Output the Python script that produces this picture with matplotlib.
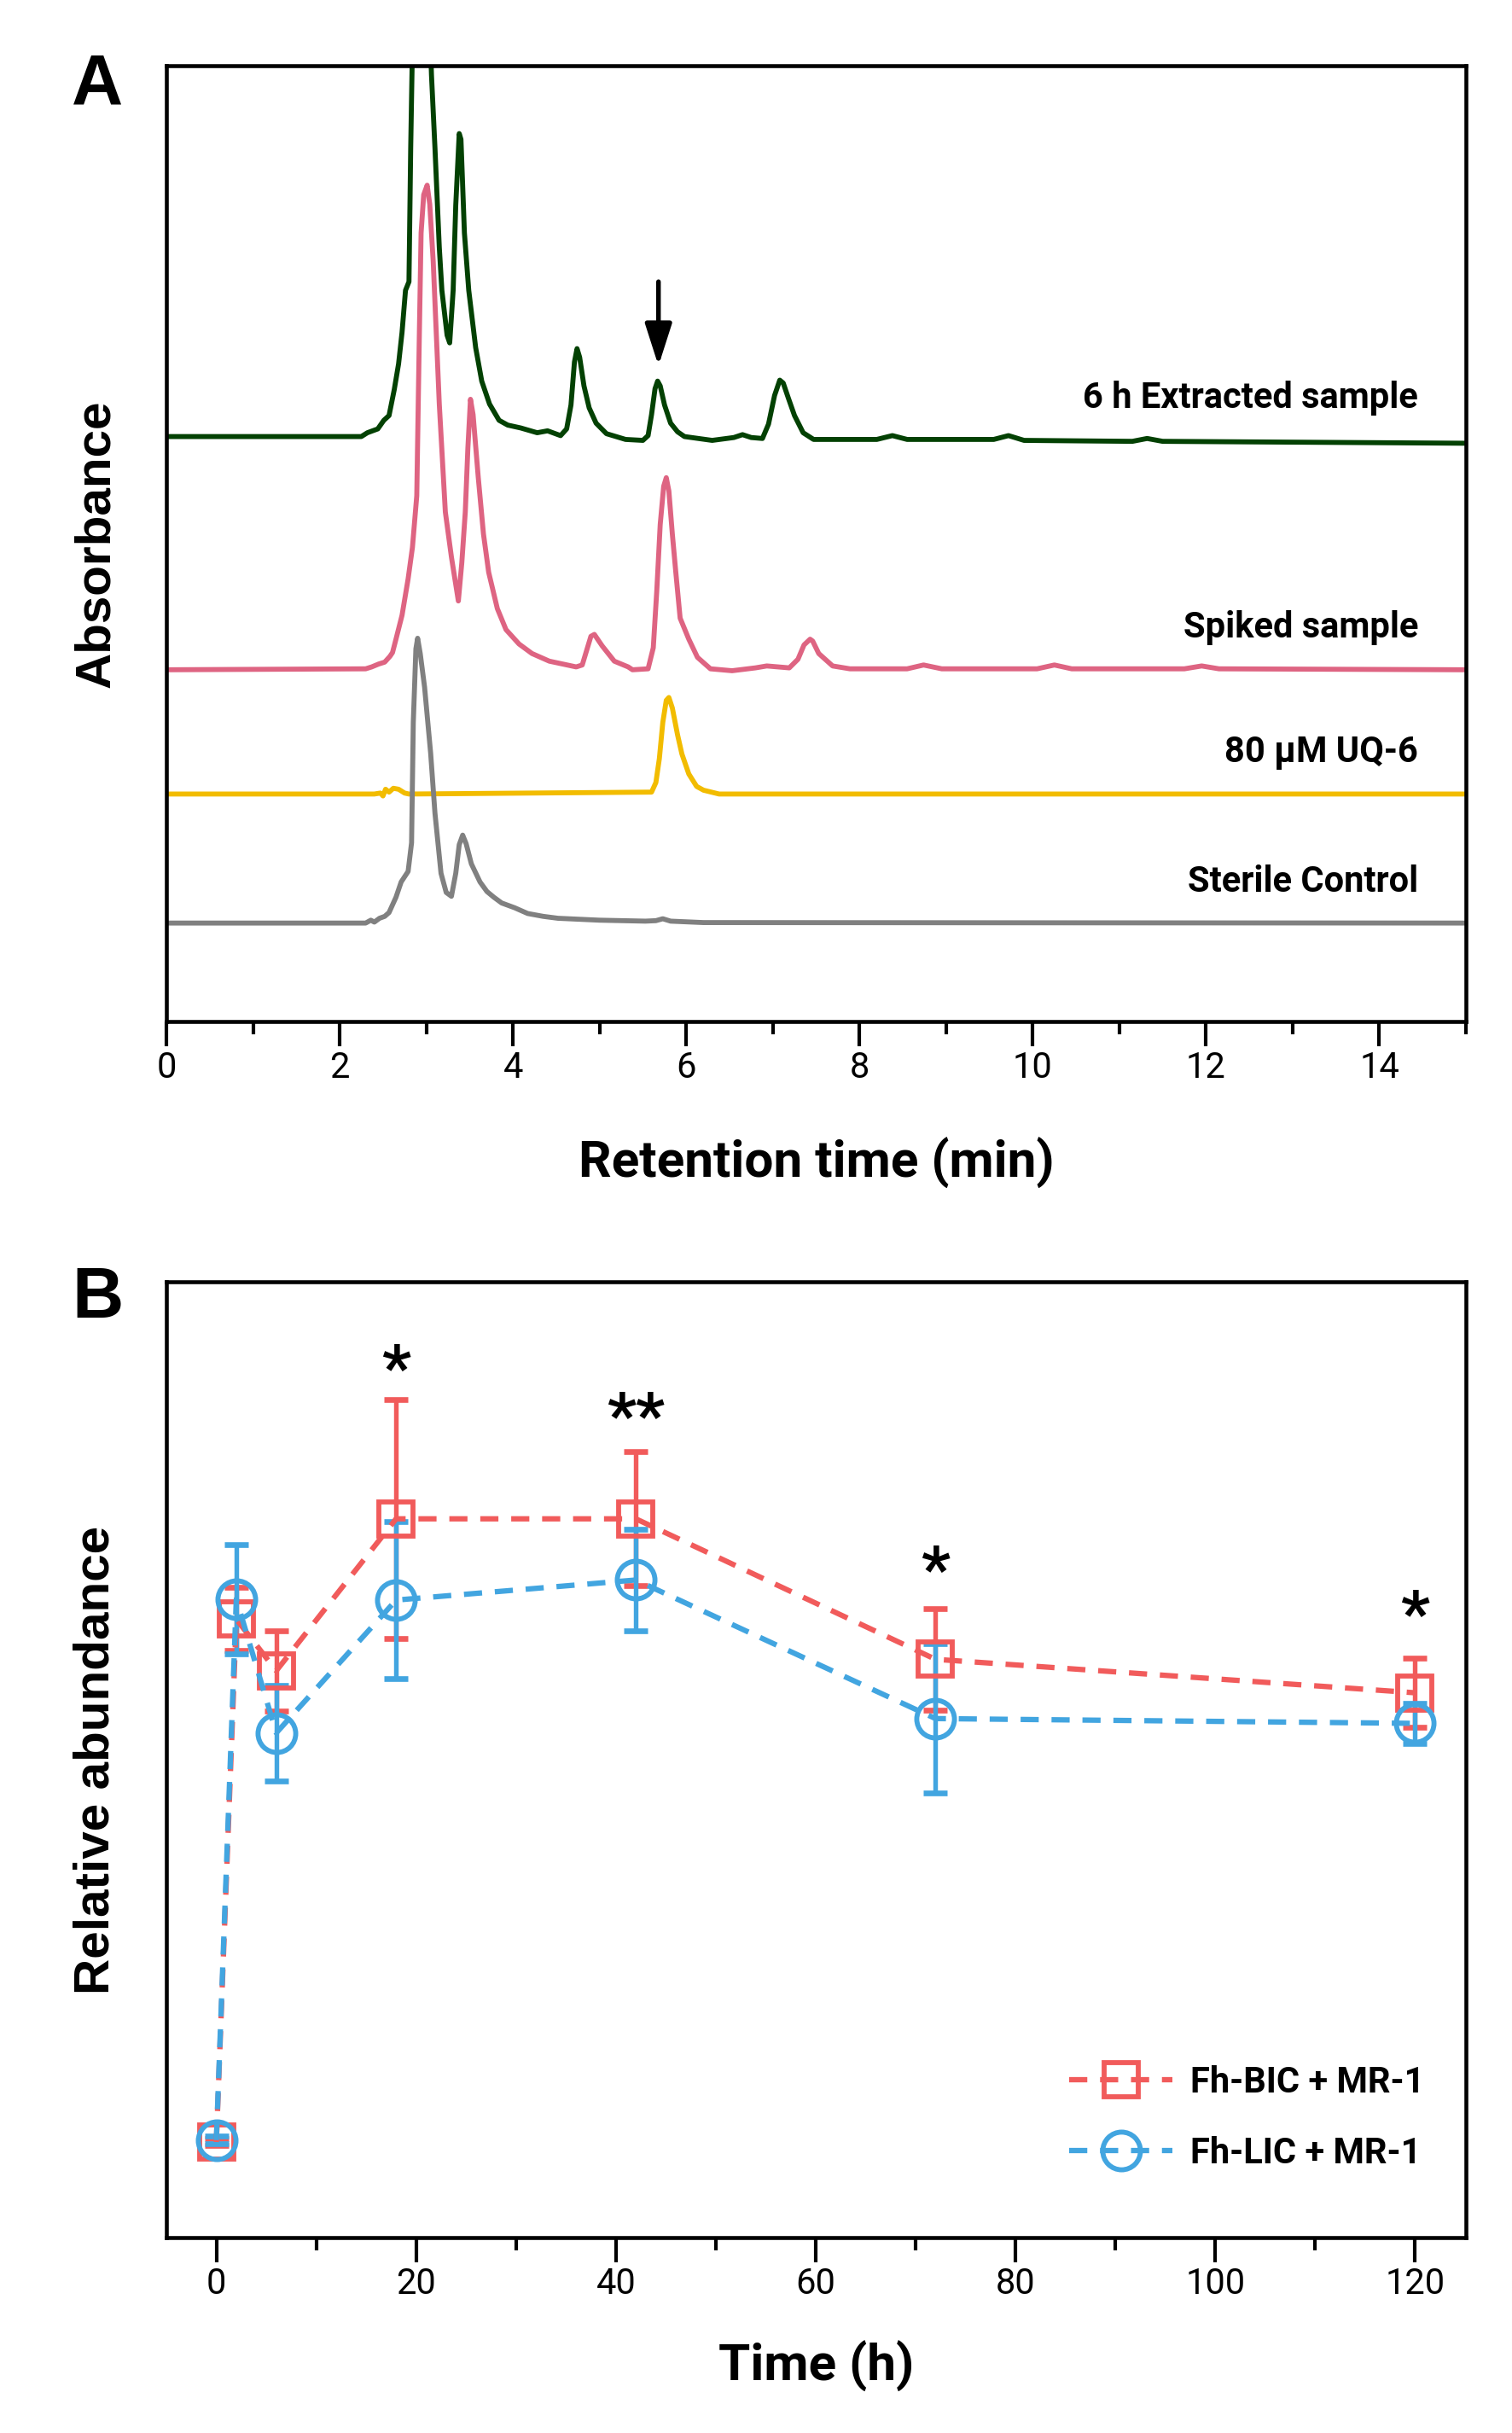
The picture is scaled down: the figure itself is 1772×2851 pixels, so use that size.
import matplotlib
matplotlib.use("Agg")
import matplotlib.pyplot as plt
from matplotlib.ticker import MultipleLocator

plt.rcParams['font.family'] = ['Roboto', 'DejaVu Sans']

# ---------- Panel A: chromatograms (time in min, absorbance in arbitrary units) ----------
extract_t = [0.0, 2.25, 2.32, 2.44, 2.51, 2.57, 2.63, 2.68, 2.72, 2.76, 2.80, 2.82, 2.84, 2.93,
             3.02, 3.06, 3.10, 3.15, 3.18, 3.24, 3.27, 3.31, 3.34, 3.38, 3.40, 3.44, 3.49, 3.57,
             3.64, 3.73, 3.84, 3.94, 4.09, 4.28, 4.40, 4.55, 4.62, 4.67, 4.71, 4.74, 4.77, 4.82,
             4.88, 4.96, 5.08, 5.30, 5.50, 5.56, 5.60, 5.64, 5.67, 5.70, 5.75, 5.82, 5.90, 5.98,
             6.30, 6.55, 6.65, 6.75, 6.88, 6.95, 7.02, 7.08, 7.12, 7.18, 7.25, 7.35, 7.47, 8.20,
             8.38, 8.55, 9.55, 9.72, 9.90, 11.15, 11.32, 11.50, 15.0]
extract_y = [61.2, 61.2, 61.6, 62.0, 62.9, 63.4, 66.1, 68.8, 72.1, 76.5, 77.4, 91.4, 102, 125,
             110, 99, 91.4, 81.0, 76.5, 71.8, 71.0, 76.5, 85.4, 92.9, 92.3, 82.5, 76.5, 70.5,
             67.0, 64.6, 62.9, 62.4, 62.1, 61.6, 61.8, 61.3, 62.0, 64.5, 69.0, 70.4, 69.5, 66.5,
             64.2, 62.6, 61.5, 60.9, 60.8, 61.3, 63.5, 66.2, 67.0, 66.5, 64.5, 62.6, 61.7, 61.2,
             60.8, 61.1, 61.4, 61.1, 61.0, 62.5, 65.5, 67.1, 66.8, 65.2, 63.4, 61.6, 60.9, 60.9,
             61.3, 60.9, 60.9, 61.3, 60.8, 60.7, 61.0, 60.7, 60.5]

spiked_t = [0.0, 2.30, 2.37, 2.45, 2.52, 2.58, 2.61, 2.65, 2.72, 2.79, 2.84, 2.89, 2.92, 2.94,
            2.97, 3.01, 3.04, 3.08, 3.15, 3.22, 3.29, 3.37, 3.41, 3.45, 3.48, 3.51, 3.54, 3.60,
            3.66, 3.72, 3.82, 3.92, 4.07, 4.22, 4.42, 4.73, 4.80, 4.85, 4.90, 4.94, 5.03, 5.17,
            5.33, 5.38, 5.56, 5.62, 5.66, 5.70, 5.74, 5.77, 5.80, 5.84, 5.88, 5.93, 6.03, 6.13,
            6.28, 6.53, 6.80, 6.93, 7.19, 7.29, 7.36, 7.43, 7.46, 7.53, 7.69, 7.89, 8.55, 8.74,
            8.95, 10.05, 10.25, 10.45, 11.75, 11.95, 12.15, 15.0]
spiked_y = [36.8, 36.9, 37.1, 37.4, 37.6, 38.2, 38.6, 40.0, 42.5, 46.3, 49.6, 55.0, 72.0, 82.5,
            86.5, 87.5, 85.5, 79.5, 64.6, 53.3, 48.6, 44.0, 48.0, 53.3, 60.0, 65.1, 63.5, 56.9,
            51.0, 47.0, 43.2, 41.0, 39.5, 38.5, 37.7, 37.1, 37.3, 38.8, 40.3, 40.5, 39.3, 37.7,
            37.1, 36.8, 36.9, 39.1, 45.0, 52.0, 56.0, 56.9, 55.5, 51.0, 47.0, 42.2, 40.0, 38.1,
            36.9, 36.7, 37.0, 37.2, 37.0, 37.9, 39.4, 40.0, 39.8, 38.5, 37.2, 36.9, 36.9, 37.3,
            36.9, 36.9, 37.3, 36.9, 36.9, 37.2, 36.9, 36.8]

uq6_t = [0.0, 2.40, 2.47, 2.50, 2.53, 2.57, 2.62, 2.68, 2.75, 2.80, 5.60, 5.65, 5.69, 5.73,
         5.77, 5.80, 5.84, 5.90, 5.95, 6.03, 6.12, 6.20, 6.38, 15.0]
uq6_y = [23.8, 23.8, 23.9, 23.6, 24.3, 24.0, 24.4, 24.3, 23.9, 23.8, 24.0, 25.0, 27.5, 31.3,
         33.6, 33.9, 32.8, 30.0, 28.0, 25.9, 24.6, 24.2, 23.8, 23.8]

sterile_t = [0.0, 2.30, 2.36, 2.40, 2.46, 2.52, 2.57, 2.65, 2.71, 2.79, 2.83, 2.85, 2.88, 2.90,
             2.93, 2.98, 3.05, 3.10, 3.17, 3.23, 3.29, 3.34, 3.38, 3.42, 3.46, 3.52, 3.62, 3.70,
             3.78, 3.87, 4.02, 4.17, 4.35, 4.52, 5.00, 5.53, 5.65, 5.73, 5.82, 6.20, 15.0]
sterile_y = [10.3, 10.3, 10.6, 10.4, 10.8, 11.0, 11.4, 13.0, 14.6, 15.7, 18.7, 31.3, 39.0, 40.1,
             38.5, 35.0, 28.1, 21.8, 15.5, 13.5, 13.1, 15.5, 18.5, 19.5, 18.6, 16.5, 14.6, 13.6,
             13.0, 12.4, 11.9, 11.3, 11.0, 10.8, 10.6, 10.5, 10.55, 10.75, 10.5, 10.35, 10.3]

trace_labels = ["6 h Extracted sample", "Spiked sample", "80 \u03bcM UQ-6", "Sterile Control"]
trace_label_y = [65.2, 41.2, 28.2, 14.6]
trace_colors = ["#034103", "#DE6482", "#F2BC00", "#808080"]

# ---------- Panel B: time course ----------
time_h = [0, 2, 6, 18, 42, 72, 120]
bic_mean = [0.100, 0.647, 0.593, 0.752, 0.752, 0.605, 0.570]
bic_err = [0.004, 0.033, 0.042, 0.125, 0.070, 0.053, 0.036]
lic_mean = [0.102, 0.668, 0.528, 0.667, 0.688, 0.543, 0.538]
lic_err = [0.004, 0.057, 0.050, 0.082, 0.053, 0.078, 0.021]
star_t = [18, 42, 72, 120]
star_y = [0.905, 0.855, 0.695, 0.648]
star_txt = ["*", "**", "*", "*"]

red = "#F15B5B"
blue = "#42A5E0"

W, H = 1772, 2851
fig = plt.figure(figsize=(W / 300, H / 300), dpi=300)

axA = fig.add_axes([195 / W, 1 - 1197 / H, 1523 / W, 1120 / H])
axB = fig.add_axes([195 / W, 1 - 2622 / H, 1523 / W, 1120 / H])

for ax in (axA, axB):
    for s in ax.spines.values():
        s.set_linewidth(1.1)
    ax.tick_params(axis='x', which='major', direction='out', length=7, width=1.0,
                   labelsize=10, pad=1.2, top=False)
    ax.tick_params(axis='x', which='minor', direction='out', length=3.6, width=1.0, top=False)
    ax.tick_params(axis='y', which='both', left=False, right=False, labelleft=False)

# Panel A
traces = [(extract_t, extract_y), (spiked_t, spiked_y), (uq6_t, uq6_y), (sterile_t, sterile_y)]
for (t, y), c in zip(traces, trace_colors):
    axA.plot(t, y, color=c, lw=1.4, solid_joinstyle='round')
for lab, ly in zip(trace_labels, trace_label_y):
    axA.text(14.45, ly, lab, ha='right', va='center', fontsize=10, fontweight='bold')
axA.annotate('', xy=(5.68, 68.6), xytext=(5.68, 77.4),
             arrowprops=dict(arrowstyle='-|>,head_length=1.0,head_width=0.32', color='black',
                             lw=1.3, shrinkA=0, shrinkB=0, mutation_scale=10))
axA.set_xlim(0, 15)
axA.set_ylim(0, 100)
axA.xaxis.set_major_locator(MultipleLocator(2))
axA.xaxis.set_minor_locator(MultipleLocator(1))
axA.set_xlabel("Retention time (min)", fontsize=14.5, fontweight='bold', va='center')
axA.xaxis.set_label_coords(0.5, -0.148)
axA.set_ylabel("Absorbance", fontsize=14, fontweight='bold', va='center',
               family=['Liberation Sans', 'DejaVu Sans'])
axA.yaxis.set_label_coords(-0.054, 0.5)

# Panel B
dash = (0, (3.4, 2.4))
axB.errorbar(time_h, bic_mean, yerr=bic_err, fmt='none', ecolor=red, elinewidth=1.3,
             capsize=3.4, capthick=1.6, zorder=3)
axB.errorbar(time_h, lic_mean, yerr=lic_err, fmt='none', ecolor=blue, elinewidth=1.3,
             capsize=3.4, capthick=1.6, zorder=3)
axB.plot(time_h, bic_mean, color=red, lw=1.5, linestyle=dash, marker='s', markersize=9.4,
         markerfacecolor='none', markeredgecolor=red, markeredgewidth=1.4,
         label="Fh-BIC + MR-1", zorder=4)
axB.plot(time_h, lic_mean, color=blue, lw=1.5, linestyle=dash, marker='o', markersize=10.6,
         markerfacecolor='none', markeredgecolor=blue, markeredgewidth=1.4,
         label="Fh-LIC + MR-1", zorder=4)
for st, sy, tx in zip(star_t, star_y, star_txt):
    axB.text(st, sy, tx, ha='center', va='center', fontsize=18, fontweight='bold')
axB.set_xlim(-5, 125.1)
axB.set_ylim(0, 1)
axB.xaxis.set_major_locator(MultipleLocator(20))
axB.xaxis.set_minor_locator(MultipleLocator(10))
axB.set_xlabel("Time (h)", fontsize=14.5, fontweight='bold', va='center')
axB.xaxis.set_label_coords(0.5, -0.135)
axB.set_ylabel("Relative abundance", fontsize=14, fontweight='bold', va='center',
               family=['Liberation Sans', 'DejaVu Sans'])
axB.yaxis.set_label_coords(-0.054, 0.5)
axB.legend(loc='lower right', bbox_to_anchor=(0.968, 0.07), frameon=False,
           prop={'weight': 'bold', 'size': 10}, handlelength=2.9, handletextpad=0.5,
           labelspacing=1.0, borderpad=0, borderaxespad=0)

fig.text(84 / W, 1 - 62 / H, "A", fontsize=20, fontweight='bold', va='top', ha='left',
         family=['Liberation Sans', 'DejaVu Sans'])
fig.text(84 / W, 1 - 1483 / H, "B", fontsize=20, fontweight='bold', va='top', ha='left',
         family=['Liberation Sans', 'DejaVu Sans'])

fig.savefig("out.png", dpi=300)
